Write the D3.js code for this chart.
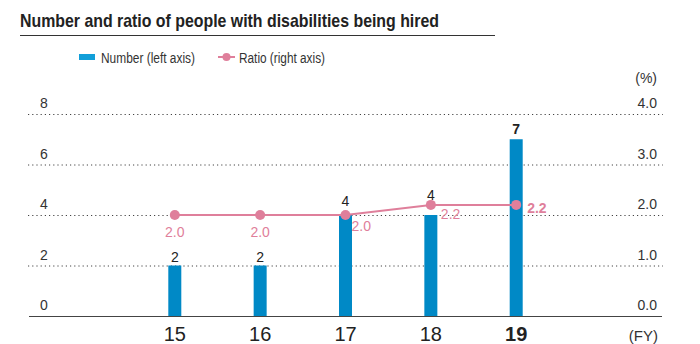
<!DOCTYPE html>
<html>
<head>
<meta charset="utf-8">
<script src="https://cdn.jsdelivr.net/npm/d3@7"></script>
<style>
  body { margin: 0; background: #fff; }
  svg { display: block; font-family: "Liberation Sans", Arial, sans-serif; }
</style>
</head>
<body>
<div id="chart"></div>
<script>
const years = [15, 16, 17, 18, 19]
const numbers = [2, 2, 4, 4, 7]
const ratios = [2.0, 2.0, 2.0, 2.2, 2.2]
const leftTicks = [0, 2, 4, 6, 8]
const rightTicks = [0, 1, 2, 3, 4]

const blue = '#0089c6'
const pink = '#df7f9b'
const ink = '#333'

const layout = { width: 700, height: 344, left: 28, right: 663, top: 114, bottom: 316 }

const svg = d3.select('#chart').append('svg')
    .attr('width', layout.width)
    .attr('height', layout.height)

const x = d3.scaleLinear()
    .domain([13.28, 20.72])
    .range([layout.left, layout.right])

const yL = d3.scaleLinear().domain([0, 8]).range([layout.bottom, layout.top])
const yR = d3.scaleLinear().domain([0, 4]).range([layout.bottom, layout.top])

// title (the original face is narrow, so squeeze it to width)
svg.append('text')
    .attr('x', 20).attr('y', 27)
    .attr('font-size', 19).attr('font-weight', 'bold')
    .attr('fill', '#222')
    .attr('textLength', 419).attr('lengthAdjust', 'spacingAndGlyphs')
    .text('Number and ratio of people with disabilities being hired')
svg.append('line')
    .attr('x1', 20).attr('x2', 495)
    .attr('y1', 35.5).attr('y2', 35.5)
    .attr('stroke', '#333').attr('stroke-width', 1)

// legend
const legend = svg.append('g').attr('font-size', 14).attr('fill', ink)
legend.append('rect')
    .attr('x', 79).attr('y', 54).attr('width', 16).attr('height', 6)
    .attr('fill', '#129fd9')
legend.append('text').attr('x', 101).attr('y', 63)
    .attr('textLength', 94).attr('lengthAdjust', 'spacingAndGlyphs')
    .text('Number (left axis)')
legend.append('line')
    .attr('x1', 218).attr('x2', 235).attr('y1', 57).attr('y2', 57)
    .attr('stroke', pink).attr('stroke-width', 2)
legend.append('circle').attr('cx', 226.5).attr('cy', 57).attr('r', 4).attr('fill', pink)
legend.append('text').attr('x', 239).attr('y', 63)
    .attr('textLength', 86).attr('lengthAdjust', 'spacingAndGlyphs')
    .text('Ratio (right axis)')

// gridlines
svg.append('g').selectAll('line')
    .data(leftTicks.filter(d => d > 0))
    .join('line')
    .attr('x1', layout.left).attr('x2', layout.right)
    .attr('y1', d => yL(d) + 0.5).attr('y2', d => yL(d) + 0.5)
    .attr('stroke', '#444').attr('stroke-width', 1)
    .attr('stroke-dasharray', '1.2,3')

// left axis labels
svg.append('g').selectAll('text')
    .data(leftTicks)
    .join('text')
    .attr('x', 40).attr('y', d => yL(d) - 6)
    .attr('font-size', 14).attr('fill', ink)
    .text(d => d)

// right axis labels
svg.append('g').selectAll('text')
    .data(rightTicks)
    .join('text')
    .attr('x', 657).attr('y', d => yR(d) - 6)
    .attr('text-anchor', 'end')
    .attr('font-size', 14).attr('fill', ink)
    .text(d => d3.format('.1f')(d))

svg.append('text')
    .attr('x', 657).attr('y', 83)
    .attr('text-anchor', 'end')
    .attr('font-size', 14).attr('fill', ink)
    .text('(%)')

// bars
const barW = 13
svg.append('g').selectAll('rect')
    .data(numbers)
    .join('rect')
    .attr('x', (d, i) => x(years[i]) - barW / 2)
    .attr('y', d => yL(d))
    .attr('width', barW)
    .attr('height', d => yL(0) - yL(d))
    .attr('fill', blue)

// baseline
svg.append('line')
    .attr('x1', layout.left + 1).attr('x2', layout.right - 1)
    .attr('y1', layout.bottom + 0.5).attr('y2', layout.bottom + 0.5)
    .attr('stroke', '#444').attr('stroke-width', 1.2)

// bar value labels
const numLift = [4, 4, 9, 15, 5]
svg.append('g').selectAll('text')
    .data(numbers)
    .join('text')
    .attr('x', (d, i) => x(years[i]))
    .attr('y', (d, i) => yL(d) - numLift[i])
    .attr('text-anchor', 'middle')
    .attr('font-size', 14)
    .attr('font-weight', (d, i) => i === numbers.length - 1 ? 'bold' : 'normal')
    .attr('fill', '#222')
    .text(d => d)

// ratio line
const line = d3.line()
    .x((d, i) => x(years[i]))
    .y(d => yR(d))
svg.append('path')
    .datum(ratios)
    .attr('d', line)
    .attr('fill', 'none')
    .attr('stroke', pink)
    .attr('stroke-width', 2)
svg.append('g').selectAll('circle')
    .data(ratios)
    .join('circle')
    .attr('cx', (d, i) => x(years[i]))
    .attr('cy', d => yR(d))
    .attr('r', 5)
    .attr('fill', pink)

// ratio labels: offsets relative to the point
const ratioOff = [[0, 22, 'middle'], [0, 22, 'middle'], [6, 16, 'start'], [10, 14, 'start'], [11, 8, 'start']]
svg.append('g').selectAll('text')
    .data(ratios)
    .join('text')
    .attr('x', (d, i) => x(years[i]) + ratioOff[i][0])
    .attr('y', (d, i) => yR(d) + ratioOff[i][1])
    .attr('text-anchor', (d, i) => ratioOff[i][2])
    .attr('font-size', 14)
    .attr('font-weight', (d, i) => i === ratios.length - 1 ? 'bold' : 'normal')
    .attr('fill', pink)
    .text(d => d3.format('.1f')(d))

// x labels
svg.append('g').selectAll('text')
    .data(years)
    .join('text')
    .attr('x', d => x(d))
    .attr('y', 341)
    .attr('text-anchor', 'middle')
    .attr('font-size', 20)
    .attr('font-weight', (d, i) => i === years.length - 1 ? 'bold' : 'normal')
    .attr('fill', '#222')
    .text(d => d)

svg.append('text')
    .attr('x', 658).attr('y', 341)
    .attr('text-anchor', 'end')
    .attr('font-size', 15).attr('fill', ink)
    .text('(FY)')
</script>
</body>
</html>
